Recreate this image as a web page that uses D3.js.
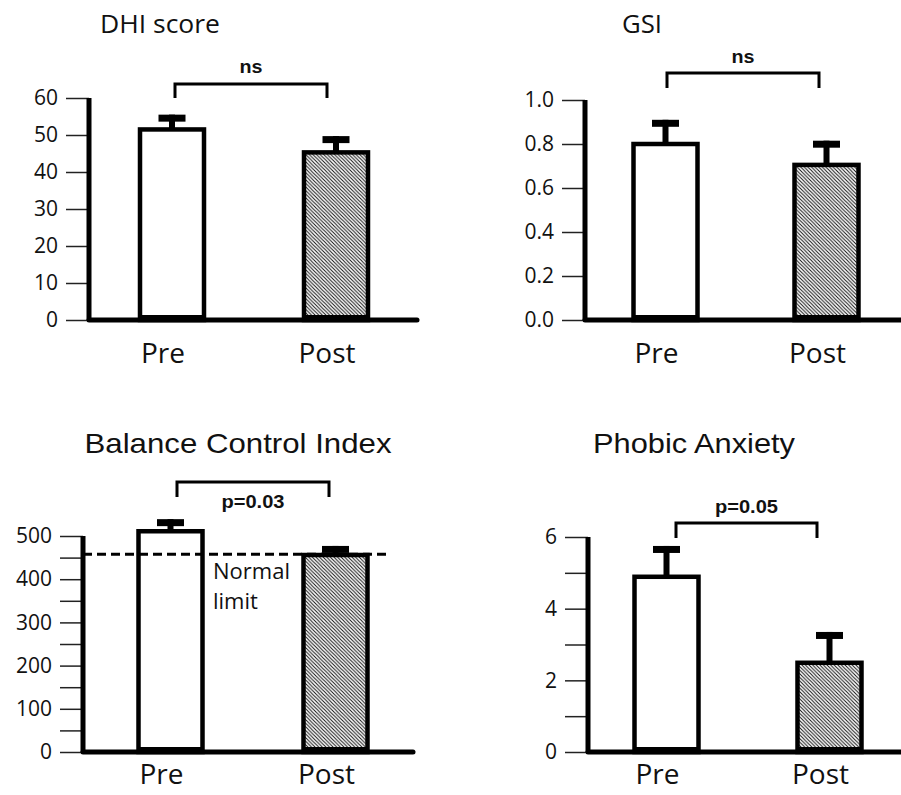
<!DOCTYPE html>
<html>
<head>
<meta charset="utf-8">
<script src="https://cdn.jsdelivr.net/npm/d3@7"></script>
<style>
  body { margin: 0; background: #fff; }
  .tick text { font-family: "Open Sans", sans-serif; fill: #111; }
  .tick line { stroke: #222; stroke-width: 1.5; }
</style>
</head>
<body>
<div id="chart"></div>
<script>
// Data
let categories = ["Pre", "Post"];

let dhiMeans = [51.5, 45.3];
let dhiErrors = [4.0, 4.4];
let dhiTicks = [0, 10, 20, 30, 40, 50, 60];

let gsiMeans = [0.80, 0.705];
let gsiErrors = [0.11, 0.11];
let gsiTicks = [0, 0.2, 0.4, 0.6, 0.8, 1.0];

let bciMeans = [511, 456];
let bciErrors = [28, 21];
let bciTicks = [0, 50, 100, 150, 200, 250, 300, 350, 400, 450, 500];
let bciNormalLimit = 458;

let phobicMeans = [4.89, 2.49];
let phobicErrors = [0.86, 0.86];
let phobicTicks = [0, 1, 2, 3, 4, 5, 6];

let width = 901;
let height = 795;

let svg = d3.select("#chart")
  .append("svg")
  .attr("width", width)
  .attr("height", height);

// hatch for the Post bars
let defs = svg.append("defs");
defs.append("pattern")
  .attr("id", "hatch")
  .attr("patternUnits", "userSpaceOnUse")
  .attr("width", 3.6)
  .attr("height", 3.6)
  .append("path")
  .attr("d", "M-1,-1 L4.6,4.6 M-1,2.6 L1,4.6 M2.6,-1 L4.6,1")
  .attr("stroke", "#111")
  .attr("stroke-width", 1.0);

// panel layouts
let panels = [
  {
    title: "DHI score", titleX: 160, titleY: 33, titleFont: "Open Sans", titleSize: 26, titleLen: 120,
    means: dhiMeans, errors: dhiErrors, ticks: dhiTicks, domain: [0, 60],
    fmt: d3.format("d"), minor: [],
    axisX: 89, yTop: 98, yBottom: 320, xEnd: 417, barX: [172, 336], labelDy: 43,
    bracket: [175, 327, 84, 98], sig: "ns", sigY: 73, sigLen: 23
  },
  {
    title: "GSI", titleX: 642, titleY: 33, titleFont: "Open Sans", titleSize: 26, titleLen: 40,
    means: gsiMeans, errors: gsiErrors, ticks: gsiTicks, domain: [0, 1],
    fmt: d3.format(".1f"), minor: [],
    axisX: 585, yTop: 100, yBottom: 320, xEnd: 901, barX: [665.5, 826.5], labelDy: 43,
    bracket: [667, 819, 73, 88], sig: "ns", sigY: 63, sigLen: 23
  },
  {
    title: "Balance Control Index", titleX: 238, titleY: 453, titleFont: "Liberation Sans", titleSize: 28, titleLen: 307,
    means: bciMeans, errors: bciErrors, ticks: bciTicks, domain: [0, 500],
    fmt: d3.format("d"), minor: [50, 150, 250, 350, 450],
    axisX: 83, yTop: 536, yBottom: 752, xEnd: 413, barX: [170.5, 335.5], labelDy: 32,
    bracket: [177, 329, 482, 497], sig: "p=0.03", sigY: 508, sigLen: 63,
    limit: bciNormalLimit
  },
  {
    title: "Phobic Anxiety", titleX: 694, titleY: 453, titleFont: "Liberation Sans", titleSize: 28, titleLen: 202,
    means: phobicMeans, errors: phobicErrors, ticks: phobicTicks, domain: [0, 6],
    fmt: d3.format("d"), minor: [1, 3, 5],
    axisX: 588, yTop: 537, yBottom: 752, xEnd: 901, barX: [666.5, 829.5], labelDy: 32,
    bracket: [676, 817, 523, 538], sig: "p=0.05", sigY: 513, sigLen: 63
  }
];

let barWidth = 64;
let capWidth = 27;

panels.forEach(function(p) {
  let g = svg.append("g");

  let yScale = d3.scaleLinear()
    .domain(p.domain)
    .range([p.yBottom, p.yTop]);

  let xScale = d3.scalePoint()
    .domain(categories)
    .range(p.barX);

  // y axis with labelled and unlabelled ticks
  let yAxis = d3.axisLeft(yScale)
    .tickValues(p.ticks)
    .tickSize(23)
    .tickPadding(8)
    .tickFormat(function(d) {
      return p.minor.indexOf(d) >= 0 ? "" : p.fmt(d);
    });

  let axisG = g.append("g")
    .attr("transform", "translate(" + p.axisX + ",0)")
    .call(yAxis);
  axisG.select(".domain").remove();
  axisG.selectAll(".tick text")
    .attr("font-size", 21)
    .attr("font-family", "Open Sans");

  // title
  g.append("text")
    .attr("x", p.titleX)
    .attr("y", p.titleY)
    .attr("text-anchor", "middle")
    .attr("font-family", p.titleFont)
    .attr("font-size", p.titleSize)
    .attr("textLength", p.titleLen)
    .attr("lengthAdjust", "spacingAndGlyphs")
    .attr("fill", "#111")
    .text(p.title);

  // bars
  g.selectAll(".bar")
    .data(categories)
    .enter()
    .append("rect")
    .attr("class", "bar")
    .attr("x", function(d) { return xScale(d) - barWidth / 2; })
    .attr("width", barWidth)
    .attr("y", function(d, i) { return yScale(p.means[i]); })
    .attr("height", function(d, i) { return yScale(0) - yScale(p.means[i]); })
    .attr("fill", function(d, i) { return i === 0 ? "#fff" : "url(#hatch)"; })
    .attr("stroke", "#000")
    .attr("stroke-width", 4.5);

  // bottom band of bars
  g.selectAll(".barBase")
    .data(categories)
    .enter()
    .append("rect")
    .attr("x", function(d) { return xScale(d) - barWidth / 2; })
    .attr("width", barWidth)
    .attr("y", yScale(0) - 5)
    .attr("height", 5)
    .attr("fill", "#000");

  // error bars (upper only)
  g.selectAll(".errStem")
    .data(categories)
    .enter()
    .append("rect")
    .attr("x", function(d) { return xScale(d) - 3; })
    .attr("width", 6)
    .attr("y", function(d, i) { return yScale(p.means[i] + p.errors[i]); })
    .attr("height", function(d, i) {
      return yScale(p.means[i]) - yScale(p.means[i] + p.errors[i]);
    })
    .attr("fill", "#000");

  g.selectAll(".errCap")
    .data(categories)
    .enter()
    .append("rect")
    .attr("x", function(d) { return xScale(d) - capWidth / 2; })
    .attr("width", capWidth)
    .attr("y", function(d, i) { return yScale(p.means[i] + p.errors[i]); })
    .attr("height", 7)
    .attr("fill", "#000");

  // normal limit
  if (p.limit !== undefined) {
    g.append("line")
      .attr("x1", p.axisX)
      .attr("x2", 387)
      .attr("y1", yScale(p.limit))
      .attr("y2", yScale(p.limit))
      .attr("stroke", "#000")
      .attr("stroke-width", 3)
      .attr("stroke-dasharray", "9,5");
    let lim = g.append("text")
      .attr("font-family", "Open Sans")
      .attr("font-size", 22)
      .attr("fill", "#111");
    lim.append("tspan").attr("x", 213).attr("y", yScale(p.limit) + 25).text("Normal");
    lim.append("tspan").attr("x", 213).attr("y", yScale(p.limit) + 55).text("limit");
  }

  // thick axis lines
  g.append("line")
    .attr("x1", p.axisX).attr("x2", p.axisX)
    .attr("y1", p.yTop).attr("y2", p.yBottom)
    .attr("stroke", "#000")
    .attr("stroke-width", 5);
  g.append("line")
    .attr("x1", p.axisX).attr("x2", p.xEnd)
    .attr("y1", p.yBottom).attr("y2", p.yBottom)
    .attr("stroke", "#000")
    .attr("stroke-width", 5)
    .attr("stroke-linecap", "round");

  // category labels
  g.selectAll(".catLabel")
    .data(categories)
    .enter()
    .append("text")
    .attr("x", function(d) { return xScale(d) - 9; })
    .attr("y", p.yBottom + p.labelDy)
    .attr("text-anchor", "middle")
    .attr("font-family", "Open Sans")
    .attr("font-size", 28)
    .attr("fill", "#111")
    .text(function(d) { return d; });

  // significance bracket
  let b = p.bracket;
  g.append("path")
    .attr("d", "M" + b[0] + "," + b[3] + "V" + b[2] + "H" + b[1] + "V" + b[3])
    .attr("fill", "none")
    .attr("stroke", "#000")
    .attr("stroke-width", 3);
  g.append("text")
    .attr("x", (b[0] + b[1]) / 2)
    .attr("y", p.sigY)
    .attr("text-anchor", "middle")
    .attr("font-family", "Liberation Sans")
    .attr("font-weight", "bold")
    .attr("font-size", 18)
    .attr("textLength", p.sigLen)
    .attr("lengthAdjust", "spacingAndGlyphs")
    .attr("fill", "#111")
    .text(p.sig);
});
</script>
</body>
</html>
